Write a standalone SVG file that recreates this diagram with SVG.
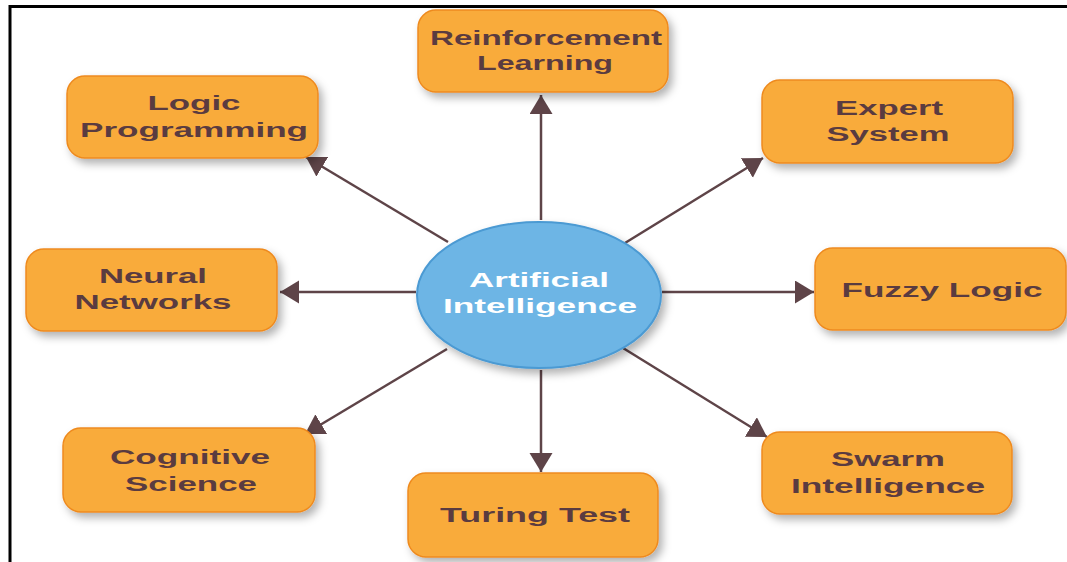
<svg xmlns="http://www.w3.org/2000/svg" width="1067" height="562" viewBox="0 0 1067 562">
  <defs>
    <filter id="shadow" x="-20%" y="-20%" width="150%" height="160%">
      <feDropShadow dx="4" dy="5" stdDeviation="4" flood-color="#000" flood-opacity="0.3"/>
    </filter>
    <marker id="arrow" markerUnits="userSpaceOnUse" markerWidth="21" markerHeight="24" refX="19" refY="11.5" orient="auto">
      <path d="M0,0 L19,11.5 L0,23 Z" fill="#5E4448"/>
    </marker>
  </defs>
  <style>
    .box { fill: #F9AB3A; stroke: #EE8A1F; stroke-width: 1.5; filter: url(#shadow); }
    .lbl { font-family: "Liberation Sans", Arial, sans-serif; font-weight: bold; font-size: 20px; fill: #5A3B40; text-anchor: middle; }
    .clbl { font-family: "Liberation Sans", Arial, sans-serif; font-weight: bold; font-size: 20px; fill: #FFFFFF; text-anchor: middle; }
    .conn { stroke: #5E4448; stroke-width: 2.5; fill: none; marker-end: url(#arrow); }
    .frame { stroke: #000; stroke-width: 3; fill: none; }
  </style>
  <rect width="1067" height="562" fill="#FFFFFF"/>
  <path class="frame" d="M10,562 L10,6.5 L1067,6.5"/>

  <g id="connectors">
    <path class="conn" d="M541,220 L541,95"/>
    <path class="conn" d="M448,242 L306,157"/>
    <path class="conn" d="M625,243 L763,158"/>
    <path class="conn" d="M416,292 L280,292"/>
    <path class="conn" d="M662,292 L814,292"/>
    <path class="conn" d="M447,349 L305,434"/>
    <path class="conn" d="M541,370 L541,472"/>
    <path class="conn" d="M623,348 L767,437"/>
  </g>

  <g id="center">
    <ellipse cx="539" cy="295" rx="122" ry="73" fill="#6DB5E5" stroke="#4B9AD3" stroke-width="2" filter="url(#shadow)"/>
    <text class="clbl" x="539" y="287" textLength="140" lengthAdjust="spacingAndGlyphs">Artificial</text>
    <text class="clbl" x="540" y="313" textLength="194" lengthAdjust="spacingAndGlyphs">Intelligence</text>
  </g>

  <g id="reinforcement-learning">
    <rect class="box" x="418" y="10" width="250" height="82" rx="18"/>
    <text class="lbl" x="546" y="45" textLength="232" lengthAdjust="spacingAndGlyphs">Reinforcement</text>
    <text class="lbl" x="545" y="70" textLength="136" lengthAdjust="spacingAndGlyphs">Learning</text>
  </g>

  <g id="logic-programming">
    <rect class="box" x="67" y="76" width="251" height="82" rx="18"/>
    <text class="lbl" x="194" y="110" textLength="93" lengthAdjust="spacingAndGlyphs">Logic</text>
    <text class="lbl" x="194" y="137" textLength="228" lengthAdjust="spacingAndGlyphs">Programming</text>
  </g>

  <g id="expert-system">
    <rect class="box" x="762" y="80" width="251" height="83" rx="18"/>
    <text class="lbl" x="889" y="115" textLength="108" lengthAdjust="spacingAndGlyphs">Expert</text>
    <text class="lbl" x="888" y="141" textLength="123" lengthAdjust="spacingAndGlyphs">System</text>
  </g>

  <g id="neural-networks">
    <rect class="box" x="26" y="249" width="251" height="82" rx="18"/>
    <text class="lbl" x="153" y="283" textLength="108" lengthAdjust="spacingAndGlyphs">Neural</text>
    <text class="lbl" x="153" y="309" textLength="157" lengthAdjust="spacingAndGlyphs">Networks</text>
  </g>

  <g id="fuzzy-logic">
    <rect class="box" x="815" y="248" width="251" height="82" rx="18"/>
    <text class="lbl" x="942" y="297" textLength="201" lengthAdjust="spacingAndGlyphs">Fuzzy Logic</text>
  </g>

  <g id="cognitive-science">
    <rect class="box" x="63" y="428" width="252" height="84" rx="18"/>
    <text class="lbl" x="190" y="464" textLength="160" lengthAdjust="spacingAndGlyphs">Cognitive</text>
    <text class="lbl" x="191" y="491" textLength="132" lengthAdjust="spacingAndGlyphs">Science</text>
  </g>

  <g id="turing-test">
    <rect class="box" x="408" y="473" width="250" height="84" rx="18"/>
    <text class="lbl" x="535" y="522" textLength="190" lengthAdjust="spacingAndGlyphs">Turing Test</text>
  </g>

  <g id="swarm-intelligence">
    <rect class="box" x="762" y="432" width="250" height="82" rx="18"/>
    <text class="lbl" x="888" y="466" textLength="114" lengthAdjust="spacingAndGlyphs">Swarm</text>
    <text class="lbl" x="888" y="493" textLength="194" lengthAdjust="spacingAndGlyphs">Intelligence</text>
  </g>
</svg>
